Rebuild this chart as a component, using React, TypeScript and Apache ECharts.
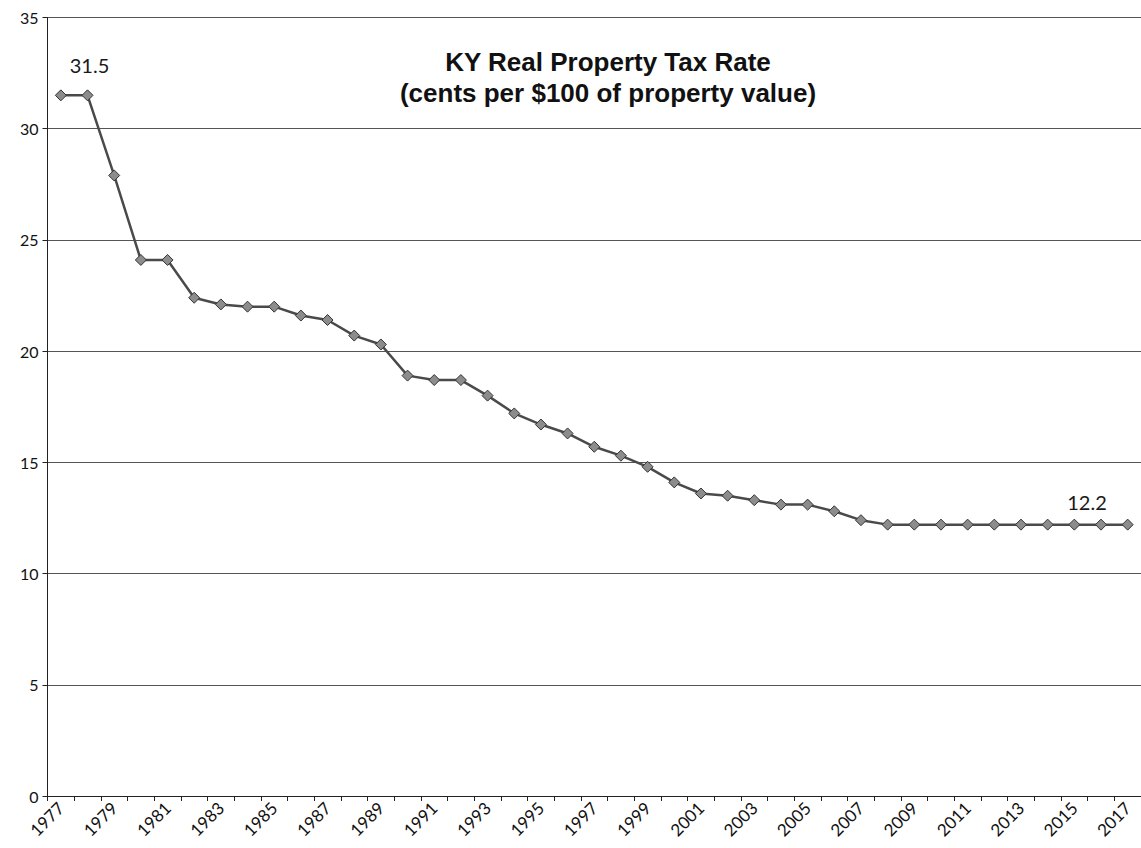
import React, { useEffect, useRef } from "react";
import * as echarts from "echarts";

const years: string[] = [
  "1977", "1978", "1979", "1980", "1981", "1982", "1983", "1984", "1985", "1986",
  "1987", "1988", "1989", "1990", "1991", "1992", "1993", "1994", "1995", "1996",
  "1997", "1998", "1999", "2000", "2001", "2002", "2003", "2004", "2005", "2006",
  "2007", "2008", "2009", "2010", "2011", "2012", "2013", "2014", "2015", "2016", "2017",
];

const taxRate: number[] = [
  31.5, 31.5, 27.9, 24.1, 24.1, 22.4, 22.1, 22.0, 22.0, 21.6,
  21.4, 20.7, 20.3, 18.9, 18.7, 18.7, 18.0, 17.2, 16.7, 16.3,
  15.7, 15.3, 14.8, 14.1, 13.6, 13.5, 13.3, 13.1, 13.1, 12.8,
  12.4, 12.2, 12.2, 12.2, 12.2, 12.2, 12.2, 12.2, 12.2, 12.2, 12.2,
];

const titleLines: string[] = ["KY Real Property Tax Rate", "(cents per $100 of property value)"];

// data-label annotations: [year, text]
const annotations: [string, string][] = [
  ["1978", "31.5"],
  ["2016", "12.2"],
];

export default function App() {
  const ref = useRef<HTMLDivElement>(null);

  useEffect(() => {
    if (!ref.current) return;
    const chart = echarts.init(ref.current, null, { renderer: "svg" });

    const data = taxRate.map((v, i) => {
      const ann = annotations.find((a) => a[0] === years[i]);
      if (!ann) return v;
      const isFirst = ann[0] === "1978";
      return {
        value: v,
        label: {
          show: true,
          formatter: ann[1],
          position: "top",
          distance: isFirst ? 14 : 7,
          offset: isFirst ? [2, 0] : [-14, 0],
          fontFamily: "Lato",
          fontSize: 20,
          color: "#1a1a1a",
        },
      };
    });

    chart.setOption({
      animation: false,
      backgroundColor: "#ffffff",
      grid: { left: 47.5, top: 17.5, width: 1099, height: 778.5, containLabel: false },
      graphic: [
        {
          type: "text",
          x: 608,
          y: 46,
          style: {
            text: titleLines.join("\n"),
            font: "bold 26px 'Liberation Sans', Arial, sans-serif",
            fill: "#111",
            textAlign: "center",
            textVerticalAlign: "top",
            lineHeight: 31,
          },
        },
      ],
      xAxis: {
        type: "category",
        data: years,
        boundaryGap: true,
        axisLine: { show: true, lineStyle: { color: "#222", width: 1 } },
        axisTick: { show: true, interval: 0, length: 5, lineStyle: { color: "#222" } },
        axisLabel: {
          interval: 1,
          rotate: 45,
          margin: 9,
          fontFamily: "Lato",
          fontSize: 17,
          color: "#111",
        },
        splitLine: { show: false },
      },
      yAxis: {
        type: "value",
        min: 0,
        max: 35,
        interval: 5,
        axisLine: { show: true, lineStyle: { color: "#222", width: 1 } },
        axisTick: { show: true, length: 5, lineStyle: { color: "#222" } },
        axisLabel: { margin: 9, fontFamily: "Lato", fontSize: 16, color: "#111" },
        splitLine: { show: true, lineStyle: { color: "#555", width: 1 } },
      },
      series: [
        {
          type: "line",
          data,
          symbol: "diamond",
          symbolSize: 11,
          lineStyle: { color: "#4a4a4a", width: 2.5 },
          itemStyle: { color: "#8c8c8c", borderColor: "#333", borderWidth: 1 },
        },
      ],
    });

    return () => chart.dispose();
  }, []);

  return (
    <div
      ref={ref}
      style={{ position: "fixed", left: 0, top: 0, width: 1141, height: 848 }}
    />
  );
}
